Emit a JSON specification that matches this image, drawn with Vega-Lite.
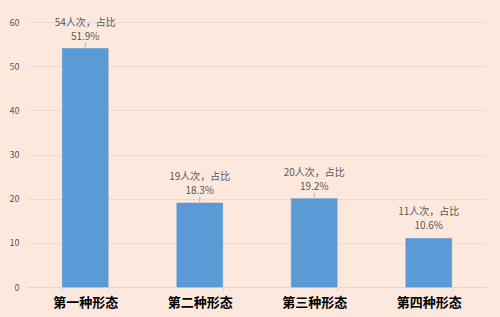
{
  "$schema": "https://vega.github.io/schema/vega-lite/v6.json",
  "autosize": {"type": "none"},
  "width": 458,
  "height": 265,
  "padding": {"left": 28, "top": 22, "right": 14, "bottom": 30},
  "background": "#fde8dd",
  "config": {
    "view": {"stroke": null},
    "font": "Noto Sans CJK SC"
  },
  "data": {
    "values": [
      {"form": "第一种形态", "count": 54, "line1": "54人次，占比", "line2": "51.9%"},
      {"form": "第二种形态", "count": 19, "line1": "19人次，占比", "line2": "18.3%"},
      {"form": "第三种形态", "count": 20, "line1": "20人次，占比", "line2": "19.2%"},
      {"form": "第四种形态", "count": 11, "line1": "11人次，占比", "line2": "10.6%"}
    ]
  },
  "encoding": {
    "x": {
      "field": "form", "type": "nominal", "sort": null,
      "scale": {"paddingInner": 0.6, "paddingOuter": 0.3},
      "axis": {
        "title": null, "labelAngle": 0, "labelFontSize": 13, "labelFontWeight": "bold",
        "labelColor": "#000000", "labelPadding": 4, "domainColor": "#d9d9d9",
        "tickColor": "#d9d9d9", "tickSize": 5, "tickBand": "extent", "grid": false
      }
    },
    "y": {
      "field": "count", "type": "quantitative",
      "scale": {"domain": [0, 60]},
      "axis": {
        "title": null, "values": [0, 10, 20, 30, 40, 50, 60], "domain": false, "ticks": false,
        "labelPadding": 9, "labelFontSize": 9, "labelColor": "#595959",
        "gridColor": "#e3dcdc", "gridWidth": 1
      }
    }
  },
  "layer": [
    {"mark": {"type": "bar", "color": "#5b9bd5", "stroke": "#4a8ccc", "strokeWidth": 0.5}},
    {
      "transform": [{"filter": "datum.count > 12"}],
      "mark": {"type": "rule", "color": "#a6a6a6", "strokeWidth": 0.8, "yOffset": -1, "y2Offset": -6},
      "encoding": {"y2": {"field": "count"}}
    },
    {
      "mark": {"type": "text", "baseline": "alphabetic", "dy": -9, "fontSize": 10, "color": "#595959"},
      "encoding": {"text": {"field": "line2"}}
    },
    {
      "mark": {"type": "text", "baseline": "alphabetic", "dy": -23, "fontSize": 10, "color": "#595959"},
      "encoding": {"text": {"field": "line1"}}
    }
  ]
}
